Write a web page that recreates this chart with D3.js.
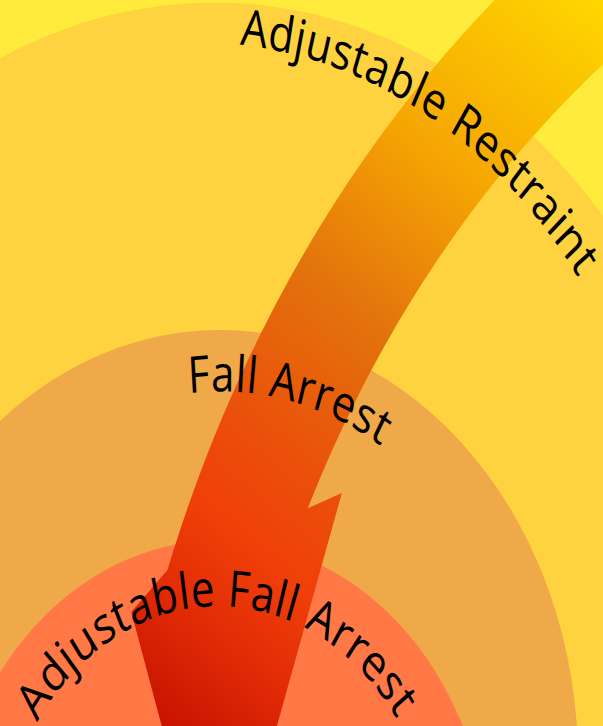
<!DOCTYPE html>
<html lang="en">
<head>
<meta charset="utf-8">
<script src="https://d3js.org/d3.v7.min.js"></script>
<style>
  html, body { margin: 0; padding: 0; overflow: hidden; background: #FFEB3B; }
  svg { display: block; }
</style>
</head>
<body>
<script>
// rings, outermost first
var ringLabels = ["Adjustable Restraint", "Fall Arrest", "Adjustable Fall Arrest"];
var ringLevels = [3, 2, 1];

var W = 603, H = 726, VB = 603;   // drawn square, stretched to the page
var toRad = Math.PI / 180;

var svg = d3.select("body").append("svg")
    .attr("width", W)
    .attr("height", H)
    .attr("viewBox", "0 0 " + VB + " " + VB)
    .attr("preserveAspectRatio", "none");

var defs = svg.append("defs");

// ring geometry by level
var radius  = d3.scaleLinear().domain([1, 2, 3]).range([271.5, 358, 515]);
var centerX = d3.scaleLinear().domain([1, 2, 3]).range([218, 220, 214]);
var centerY = d3.scaleLinear().domain([1, 2, 3]).range([720.5, 632, 517]);
// label baseline circles sit a little inside each ring
var labelInset = d3.scaleLinear().domain([1, 2, 3]).range([54.5, 51, 43]);
var labelShiftX = d3.scaleLinear().domain([1, 2, 3]).range([0, 0, -18.5]);
var labelShiftY = d3.scaleLinear().domain([1, 2, 3]).range([0, 0, -10]);
var labelStart = d3.scaleLinear().domain([1, 2, 3]).range([-56.3, -5.8, 5.4]);
var color = d3.scaleOrdinal().domain([1, 2, 3]).range(["#FF7846", "#F0A948", "#FFD23F"]);

svg.append("rect")
    .attr("width", VB).attr("height", VB)
    .attr("fill", "#FFEB3B");

svg.append("g")
    .selectAll("circle")
    .data(ringLevels)
    .enter()
    .append("circle")
    .attr("cx", function (d) { return centerX(d); })
    .attr("cy", function (d) { return centerY(d); })
    .attr("r", function (d) { return radius(d); })
    .attr("fill", function (d) { return color(d); });

// ---- the bent arrow, in polar terms round its own centre ----
var arrowC = [1230, 858];
var shaft = { inner: 1020, outer: 1130, start: -33, outerEnd: -70.1, innerEnd: -64.7 };
var head = [[-72.35, 1153], [-85.5, 1015], [-63.2, 995]];

var outline = [];
d3.range(shaft.start, shaft.outerEnd, -0.5).forEach(function (a) { outline.push([a, shaft.outer]); });
outline.push([shaft.outerEnd, shaft.outer]);
head.forEach(function (p) { outline.push(p); });
d3.range(shaft.innerEnd, shaft.start, 0.5).forEach(function (a) { outline.push([a, shaft.inner]); });
outline.push([shaft.start, shaft.inner]);

var grad = defs.append("linearGradient")
    .attr("id", "arrowGrad")
    .attr("gradientUnits", "userSpaceOnUse")
    .attr("x1", 590).attr("y1", -16.6)
    .attr("x2", 160).attr("y2", 614.6);
[[0, "#FFD800"], [0.27, "#F5A503"], [0.47, "#E3720C"], [0.66, "#EB4E0A"],
 [0.76, "#F03F08"], [0.87, "#E02A06"], [1, "#C41000"]].forEach(function (s) {
    grad.append("stop").attr("offset", s[0]).attr("stop-color", s[1]);
});

var arrowLine = d3.line()
    .x(function (d) { return arrowC[0] + d[1] * Math.sin(d[0] * toRad); })
    .y(function (d) { return arrowC[1] - d[1] * Math.cos(d[0] * toRad); });

svg.append("path")
    .attr("d", arrowLine(outline) + "Z")
    .attr("fill", "url(#arrowGrad)");

// ---- labels along the rings ----
ringLevels.forEach(function (lv) {
    var cx = centerX(lv) + labelShiftX(lv), cy = centerY(lv) + labelShiftY(lv);
    var r = radius(lv) - labelInset(lv);
    var a0 = labelStart(lv) * toRad;
    var p = d3.path();
    p.moveTo(cx + r * Math.sin(a0), cy - r * Math.cos(a0));
    p.arc(cx, cy, r, a0 - Math.PI / 2, a0 - Math.PI / 2 + 1.9 * Math.PI, false);
    defs.append("path").attr("id", "lp" + lv).attr("d", p.toString());
});

svg.append("g")
    .selectAll("text")
    .data(ringLevels)
    .enter()
    .append("text")
    .style("font-family", "'Open Sans', sans-serif")
    .style("font-size", "42px")
    .style("letter-spacing", "0.4px")
    .attr("fill", "#000")
    .append("textPath")
    .attr("href", function (d) { return "#lp" + d; })
    .attr("startOffset", 0)
    .text(function (d, i) { return ringLabels[i]; });
</script>
</body>
</html>
